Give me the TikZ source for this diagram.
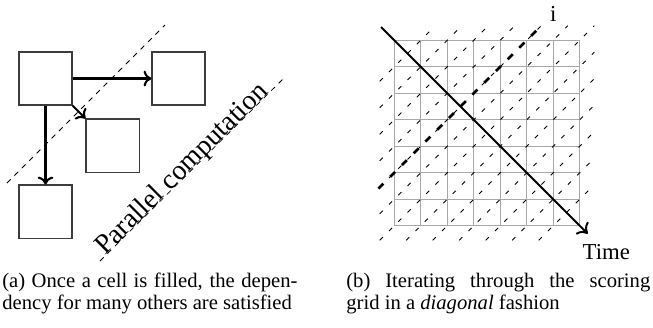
\documentclass[tikz,border=0pt]{standalone}
\usepackage{fontspec}
\setmainfont{Liberation Serif}
\usepackage{tikz}
\usetikzlibrary{arrows.meta,positioning}
\definecolor{BoxLine}{HTML}{3C3C3C}
\definecolor{GridGray}{HTML}{A8A8A8}
\tikzset{
  CB/.style={rectangle,draw=BoxLine,line width=0.6pt,minimum size=30.3pt,inner sep=0pt},
  arr/.style={-{To[length=4.5pt,width=9pt]},line width=1.2pt},
  tarr/.style={-{To[length=5pt,width=10pt]},line width=1.1pt},
  WF/.style={dashed,line width=0.45pt},
  GL/.style={draw=GridGray,line width=0.8pt},
  DG/.style={line width=0.55pt,dash pattern=on 2.5pt off 5pt},
  DK/.style={line width=1.6pt,dash pattern=on 4pt off 5.5pt},
  LB/.style={font=\fontsize{13}{15}\selectfont,inner sep=0pt},
  CP/.style={font=\fontsize{11.8}{12.6}\selectfont,align=left,inner sep=0pt,anchor=north west}
}

\begin{document}
\begin{tikzpicture}[x=0.5714pt,y=-0.5714pt]
  \useasboundingbox (0,0) rectangle (653,327);
  % (a) dependencies
  \node[CB] (src) at (45.5,78.5) {};
  \node[CB,right=45.1pt of src] (rgt) {};
  \node[CB,below right=7.4pt and 7.4pt of src] (dgn) {};
  \node[CB,below=45.1pt of src] (dwn) {};
  \draw[arr](src)--(rgt);
  \draw[arr](src)--(dwn);
  \draw[arr](src.south east)--(dgn.north west);
  \draw[WF](7,183)--(165,25);
  \draw[WF](100,261)--(285,77) node[sloped,anchor=base,pos=0.47,inner sep=0pt,font=\fontsize{15.9}{19}\selectfont] (par) {Parallel computation};
  % (b) diagonal sweep
  \begin{scope}[shift={(394.3,225.7)},x=15.14pt,y=15.14pt]
    \draw[GL,step=1](0,0) grid (7,7);
    \foreach \k in {-6,...,6}{
      \pgfmathsetmacro\xa{max(-0.55,-0.55-(\k))}
      \pgfmathsetmacro\xb{min(7.55,7.55-(\k))}
      \draw[DG](\xa,{\xa+(\k)})--(\xb,{\xb+(\k)});
    }
    \draw[DK](-0.6,1.4)--(5.37,7.37);
    \coordinate (t0) at (-0.5,7.5);
    \coordinate (t1) at (7.3,-0.3);
    \draw[tarr](t0)--(t1);
    \node[LB] (ilab) at (6,8) {i};
    \node[LB] (tlab) at (8,-1) {Time};
  \end{scope}
  \node[CP] (capa) at (2,271.6) {\strut\makebox[168.6pt][s]{(a) Once a cell is filled, the depen-}\\\strut dency for many others are satisfied};
  \node[CP] (capb) at (346,271.6) {\strut\makebox[173.7pt][s]{(b) Iterating through the scoring}\\\strut grid in a \emph{diagonal} fashion};
\end{tikzpicture}
\end{document}
